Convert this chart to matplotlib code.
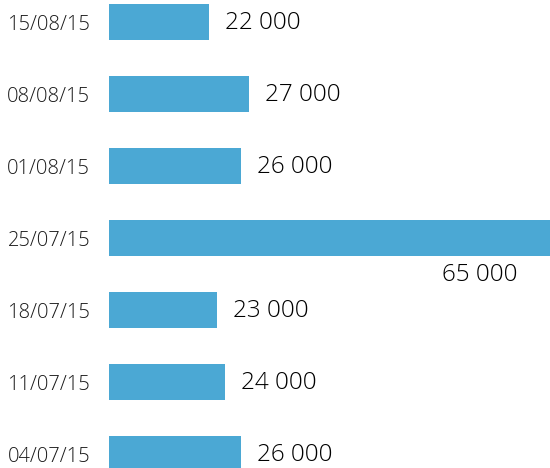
import matplotlib
matplotlib.use("Agg")
import matplotlib.pyplot as plt

dates = ["04/07/15", "11/07/15", "18/07/15", "25/07/15", "01/08/15", "08/08/15", "15/08/15"]
values = [26000, 24000, 23000, 65000, 26000, 27000, 22000]

BAR_COLOR = "#4BA8D4"
plt.rcParams['font.family'] = ['Open Sans', 'DejaVu Sans']

fig = plt.figure(figsize=(5.5, 4.68), dpi=100)
ax = fig.add_axes([109/550, 0, 441/550, 1])

ypos = list(range(len(dates)))
ax.barh(ypos, values, height=0.5, color=BAR_COLOR, left=0)
ax.set_xlim(9400, 65000)
ax.set_ylim(-14/72, 454/72)
ax.set_yticks(ypos)
ax.set_yticklabels(dates, fontsize=14.5, fontweight=300, color='#1a1a1a')
ax.tick_params(axis='y', length=0, pad=13.5)
ax.set_xticks([])
for s in ax.spines.values():
    s.set_visible(False)

xmax = ax.get_xlim()[1]
for y, v in zip(ypos, values):
    label = f"{v:,}".replace(",", " ")
    if v >= xmax:
        ax.annotate(label, xy=(xmax, y), xytext=(-70, -37), textcoords='offset pixels',
                    ha='center', va='center', fontsize=17.5, fontweight=300, color='#000000')
    else:
        ax.annotate(label, xy=(v, y), xytext=(16, -1), textcoords='offset pixels',
                    ha='left', va='center', fontsize=17.5, fontweight=300, color='#000000')

fig.savefig("out.png", dpi=100)
